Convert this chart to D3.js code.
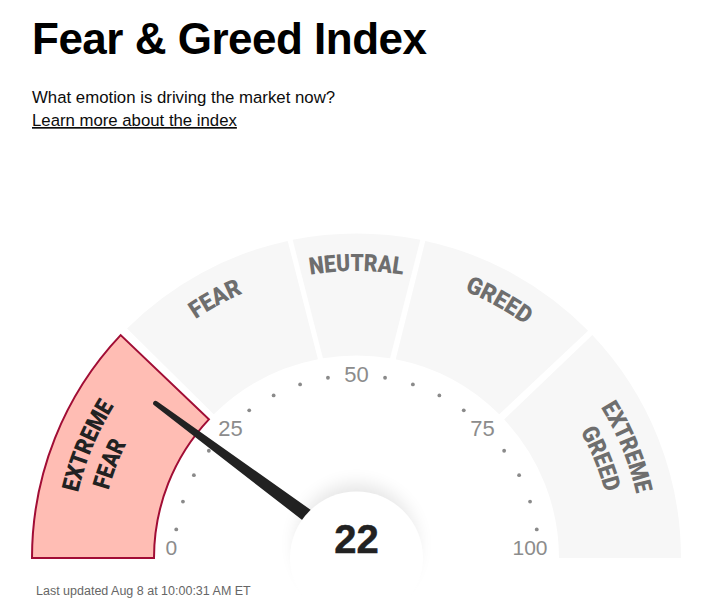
<!DOCTYPE html>
<html>
<head>
<meta charset="utf-8">
<script src="https://cdn.jsdelivr.net/npm/d3@7"></script>
<style>
    html, body { margin: 0; padding: 0; background: #fff; }
    svg { display: block; }
    text { font-family: "Liberation Sans", Arial, sans-serif; }
    .zone-label { font-family: Roboto, "Liberation Sans", sans-serif; font-weight: 900; font-size: 24px; }
</style>
</head>
<body>
<svg id="gauge" width="703" height="608"></svg>
<script>
// values
var indexValue = 22;
var zoneNames = ["Extreme Fear", "Fear", "Neutral", "Greed", "Extreme Greed"];
// the white gaps are not radial, so each edge has its own value on the outer and inner rim
var zoneOuterStart = [0, 25, 43.7, 56.8, 75.9];
var zoneOuterEnd = [24.1, 43.2, 56.3, 75.3, 100];
var zoneInnerStart = [0, 25.1, 44.7, 56.2, 76];
var zoneInnerEnd = [24, 43.9, 55.3, 74.9, 100];
var activeZone = 0;

var labelLines = ["EXTREME", "FEAR", "FEAR", "NEUTRAL", "GREED", "EXTREME", "GREED"];
var labelValues = [12.6, 11.6, 34.1, 50, 66.1, 87.6, 87.7];
var labelZones = [0, 0, 1, 2, 3, 4, 4];
var labelRims = [286, 257, 288, 287, 288, 287, 257];
var labelLengths = [94, 50, 54, 93, 70, 94, 66];

var dotValues = [5, 10, 15, 20, 30, 35, 40, 45, 55, 60, 65, 70, 80, 85, 90, 95];
var tickLabels = [25, 50, 75];

var svg = d3.select("#gauge");
var cx = 356.5, cy = 558;
var outerR = 324.5, innerR = 202.5, dotR = 182.5;

var angle = d3.scaleLinear().domain([0, 100]).range([Math.PI, 2 * Math.PI]);
// the needle sits a little off the gauge centre and reads a bit shallow
var needleAngle = d3.scaleLinear().domain([0, 100]).range([Math.PI - 0.054, 2 * Math.PI - 0.054]);

function px(v, r) { return cx + r * Math.cos(angle(v)); }
function py(v, r) { return cy + r * Math.sin(angle(v)); }

function zonePath(i) {
    var p = d3.path();
    p.moveTo(px(zoneOuterStart[i], outerR), py(zoneOuterStart[i], outerR));
    p.arc(cx, cy, outerR, angle(zoneOuterStart[i]), angle(zoneOuterEnd[i]));
    p.lineTo(px(zoneInnerEnd[i], innerR), py(zoneInnerEnd[i], innerR));
    p.arc(cx, cy, innerR, angle(zoneInnerEnd[i]), angle(zoneInnerStart[i]), true);
    p.closePath();
    return p.toString();
}

// title block
svg.append("text").text("Fear & Greed Index")
    .attr("x", 32).attr("y", 54)
    .attr("font-size", 44).attr("font-weight", "bold")
    .attr("letter-spacing", -0.5)
    .attr("fill", "#000");
svg.append("text").text("What emotion is driving the market now?")
    .attr("x", 32).attr("y", 103)
    .attr("font-size", 16.8).attr("fill", "#0c0c0c");
svg.append("text").text("Learn more about the index")
    .attr("x", 32).attr("y", 126)
    .attr("font-size", 16.75).attr("fill", "#0c0c0c")
    .attr("text-decoration", "underline");

// zones
svg.selectAll(".zone")
    .data(zoneNames)
    .enter().append("path")
    .attr("class", "zone")
    .attr("d", function(d, i) { return zonePath(i); })
    .attr("fill", function(d, i) { return i === activeZone ? "#ffbdb4" : "#f7f7f7"; })
    .attr("stroke", function(d, i) { return i === activeZone ? "#a10d35" : "none"; })
    .attr("stroke-width", 2)
    .attr("stroke-linejoin", "miter");

// zone labels run along circles, so each gets its own arc to sit on
var defs = svg.append("defs");
labelLines.forEach(function(line, i) {
    var p = d3.path();
    p.moveTo(px(0, labelRims[i]), py(0, labelRims[i]));
    p.arc(cx, cy, labelRims[i], angle(0), angle(100));
    defs.append("path").attr("id", "rim" + i).attr("d", p.toString());

    svg.append("text")
        .attr("class", "zone-label")
        .attr("text-anchor", "middle")
        .attr("fill", labelZones[i] === activeZone ? "#222" : "#6e6e6e")
        .append("textPath")
        .attr("href", "#rim" + i)
        .attr("startOffset", labelValues[i] + "%")
        .attr("textLength", labelLengths[i])
        .attr("lengthAdjust", "spacingAndGlyphs")
        .text(line);
});

// dots and scale numbers
svg.selectAll(".dot")
    .data(dotValues)
    .enter().append("circle")
    .attr("class", "dot")
    .attr("cx", function(d) { return px(d, dotR); })
    .attr("cy", function(d) { return py(d, dotR); })
    .attr("r", 1.9)
    .attr("fill", "#8a8a8a");

svg.selectAll(".tick-label")
    .data(tickLabels)
    .enter().append("text")
    .attr("class", "tick-label")
    .text(function(d) { return d; })
    .attr("x", function(d) { return px(d, dotR); })
    .attr("y", function(d) { return py(d, dotR); })
    .attr("dx", function(d) { return d === 25 ? 3 : (d === 75 ? -3 : 0); })
    .attr("dy", function(d) { return d === 50 ? "0.3em" : "0.33em"; })
    .attr("text-anchor", "middle")
    .attr("font-size", 22)
    .attr("fill", "#8c8c8c");

svg.append("text").text(0)
    .attr("x", px(0, dotR + 8.5)).attr("y", py(0, dotR))
    .attr("dy", -3.5)
    .attr("text-anchor", "start")
    .attr("font-size", 21).attr("fill", "#8c8c8c");
svg.append("text").text(100)
    .attr("x", px(100, dotR + 8.5)).attr("y", py(100, dotR))
    .attr("dy", -3.5)
    .attr("text-anchor", "end")
    .attr("font-size", 21).attr("fill", "#8c8c8c");

// needle, tapered with a round tip
var needle = svg.append("g")
    .attr("transform", "translate(" + cx + "," + (cy - 6) + ") rotate(" + (needleAngle(indexValue) * 180 / Math.PI) + ")");
needle.append("path")
    .attr("d", "M0,-8 L250,-2.4 A2.4,2.4 0 0 1 250,2.4 L0,8 Z")
    .attr("fill", "#222");

// hub over the needle foot, the glow only shows above it
var blur = defs.append("filter").attr("id", "hubGlow")
    .attr("x", "-50%").attr("y", "-50%").attr("width", "200%").attr("height", "200%");
blur.append("feGaussianBlur").attr("stdDeviation", 9);

svg.append("circle")
    .attr("cx", cx).attr("cy", cy - 14).attr("r", 60)
    .attr("fill", "#000").attr("opacity", 0.1)
    .attr("filter", "url(#hubGlow)");

svg.append("circle")
    .attr("cx", cx).attr("cy", cy).attr("r", 66.5)
    .attr("fill", "#fff");

svg.append("text").text(indexValue)
    .attr("x", cx).attr("y", 553)
    .attr("text-anchor", "middle")
    .attr("font-size", 40).attr("font-weight", "bold")
    .attr("stroke", "#222").attr("stroke-width", 0.5)
    .attr("fill", "#222");

svg.append("text").text("Last updated Aug 8 at 10:00:31 AM ET")
    .attr("x", 36).attr("y", 595)
    .attr("font-size", 12.5).attr("fill", "#666");
</script>
</body>
</html>
